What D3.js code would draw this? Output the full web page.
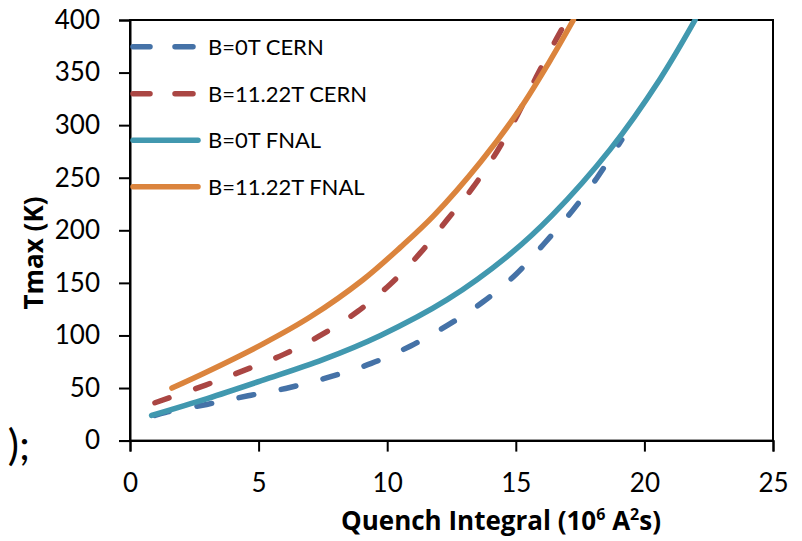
<!DOCTYPE html>
<html>
<head>
<meta charset="utf-8">
<script src="https://cdn.jsdelivr.net/npm/d3@7"></script>
<style>
  html, body { margin: 0; padding: 0; background: #fff; }
  svg { display: block; }
  text { font-family: Lato, "Open Sans", sans-serif; fill: #000; }
</style>
</head>
<body>
<svg id="chart" width="802" height="541"></svg>
<script>
// ---- data ----
const seriesNames = ["B=0T CERN", "B=11.22T CERN", "B=0T FNAL", "B=11.22T FNAL"];
const seriesColors = ["#4572A7", "#AA4643", "#4198AF", "#DB843D"];
const seriesDashed = [true, true, false, false];

const cern0X  = [0.97, 1.4, 2.98, 4.59, 6.21, 7.83, 9.38, 10.91, 12.37, 13.73, 15.0, 16.09, 17.18, 18.16, 19.12];
const cern0Y  = [24, 27, 34.4, 42.6, 50.5, 61, 73.4, 90, 110, 132, 158, 187, 218, 250, 286];
const cern11X = [0.97, 2.94, 4.46, 5.98, 7.47, 8.86, 10.13, 11.27, 12.33, 13.34, 14.27, 15.07, 15.8, 16.58, 16.85];
const cern11Y = [36, 52.8, 67, 82, 101, 123, 149, 178, 210, 241, 275, 310, 346, 382, 394];
const fnal0X  = [0.84, 3, 5.17, 7.5, 9.74, 12.33, 14.66, 16.4, 18.67, 20.61, 21.97];
const fnal0Y  = [24, 40, 57.5, 77, 100, 134, 175, 214, 277, 344, 400];
const fnal11X = [1.63, 3, 5.17, 7, 9.06, 10.52, 11.81, 13.63, 15.18, 16.3, 17.24];
const fnal11Y = [50, 65.5, 92, 117.5, 153, 184, 214, 265, 316, 360, 400];

const xTicks = [0, 5, 10, 15, 20, 25];
const yTicks = [0, 50, 100, 150, 200, 250, 300, 350, 400];

const seriesX = [cern0X, cern11X, fnal0X, fnal11X];
const seriesY = [cern0Y, cern11Y, fnal0Y, fnal11Y];

(function () {
  const svg = d3.select("#chart");
  const pL = 130, pR = 773, pT = 20, pB = 440.6;

  const x = d3.scaleLinear().domain([0, 25]).range([pL, pR]);
  const y = d3.scaleLinear().domain([0, 400]).range([pB, pT]);

  // stray fragment of neighbouring text
  svg.append("text")
    .attr("x", 30).attr("y", 460)
    .attr("text-anchor", "end")
    .style("font-size", "42px")
    .text(");");

  // plot frame
  svg.append("rect")
    .attr("x", pL).attr("y", pT)
    .attr("width", pR - pL).attr("height", pB - pT)
    .attr("fill", "none").attr("stroke", "#000").attr("stroke-width", 2);

  // axes
  const xAxis = d3.axisBottom(x).tickValues(xTicks).tickSize(11).tickPadding(22).tickFormat(d3.format("d"));
  const yAxis = d3.axisLeft(y).tickValues(yTicks).tickSize(11).tickPadding(19).tickFormat(d3.format("d"));

  const gx = svg.append("g").attr("transform", `translate(0,${pB})`).call(xAxis);
  const gy = svg.append("g").attr("transform", `translate(${pL},0)`).call(yAxis);
  [gx, gy].forEach(g => {
    g.select(".domain").attr("stroke", "#000").attr("stroke-width", 2);
    g.selectAll(".tick line").attr("stroke", "#000").attr("stroke-width", 2);
    g.selectAll(".tick text").style("font-size", "26px").style("font-family", "Lato, sans-serif").attr("fill", "#000");
  });

  // lines
  const line = d3.line()
    .x(d => x(d[0])).y(d => y(d[1]))
    .curve(d3.curveCatmullRom.alpha(0.5));

  svg.append("clipPath").attr("id", "plotclip")
    .append("rect").attr("x", pL).attr("y", pT - 1).attr("width", pR - pL).attr("height", pB - pT + 1);

  const plot = svg.append("g").attr("clip-path", "url(#plotclip)");
  seriesNames.forEach((name, i) => {
    const pts = seriesX[i].map((v, j) => [v, seriesY[i][j]]);
    plot.append("path")
      .datum(pts)
      .attr("d", line)
      .attr("fill", "none")
      .attr("stroke", seriesColors[i])
      .attr("stroke-width", 5.5)
      .attr("stroke-linecap", "round")
      .attr("stroke-dasharray", seriesDashed[i] ? "15,28" : null);
  });

  // legend
  const legendRows = [46.7, 93.7, 140.2, 186.8];
  const lg = svg.append("g");
  seriesNames.forEach((name, i) => {
    const ly = legendRows[i];
    lg.append("line")
      .attr("x1", 133).attr("x2", seriesDashed[i] ? 150 : 198)
      .attr("y1", ly).attr("y2", ly)
      .attr("stroke", seriesColors[i])
      .attr("stroke-width", 5.5)
      .attr("stroke-linecap", "round");
    if (seriesDashed[i]) {
      lg.append("line")
        .attr("x1", 175).attr("x2", 193)
        .attr("y1", ly).attr("y2", ly)
        .attr("stroke", seriesColors[i])
        .attr("stroke-width", 5.5)
        .attr("stroke-linecap", "round");
    }
    lg.append("text")
      .attr("x", 208).attr("y", ly)
      .attr("dy", "0.36em")
      .style("font-size", "22px")
      .text(name);
  });

  // axis titles
  const titleFont = "'Open Sans', Lato, sans-serif";
  const xt = svg.append("text")
    .attr("x", 501).attr("y", 530)
    .attr("text-anchor", "middle")
    .style("font-family", titleFont)
    .style("font-size", "26px").style("font-weight", "bold");
  xt.append("tspan").text("Quench Integral (10");
  xt.append("tspan").attr("dy", -10).style("font-size", "16px").text("6");
  xt.append("tspan").attr("dy", 10).text(" A");
  xt.append("tspan").attr("dy", -10).style("font-size", "16px").text("2");
  xt.append("tspan").attr("dy", 10).text("s)");

  svg.append("text")
    .attr("transform", "translate(43,253) rotate(-90)")
    .attr("text-anchor", "middle")
    .style("font-family", titleFont)
    .style("font-size", "26px").style("font-weight", "bold")
    .text("Tmax (K)");
})();
</script>
</body>
</html>
